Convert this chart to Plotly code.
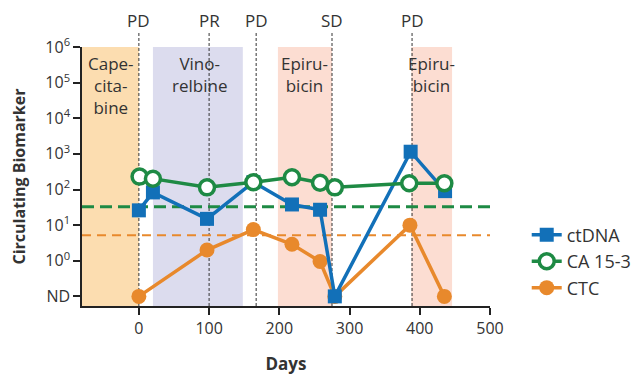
import plotly.graph_objects as go

ND = 0.1  # "not detected" plotted at this level

# ctDNA
ct_days = [0, 20, 97, 163, 218, 258, 279, 387, 436]
ct_vals = [26, 83, 15, 160, 38, 27, ND, 1150, 90]
# CA 15-3
ca_days = [1, 20, 97, 163, 218, 258, 279, 385, 435]
ca_vals = [230, 200, 115, 160, 220, 155, 115, 150, 150]
# CTC
ctc_days = [0, 97, 163, 218, 258, 279, 386, 435]
ctc_vals = [ND, 2.0, 7.5, 2.9, 0.95, ND, 10, ND]

ca_threshold = 33
ctc_threshold = 5.2

# treatment periods
treat_names = ["Cape-<br>cita-<br>bine", "Vino-<br>relbine", "Epiru-<br>bicin", "Epiru-<br>bicin"]
treat_start = [-81, 20, 198, 388]
treat_end = [0, 148, 275, 446]
treat_label_x = [-40, 87, 236, 417]
treat_colors = ["#FCDDB0", "#DCDCEE", "#FCDDD2", "#FCDDD2"]

# response assessments
resp_days = [0, 100, 167, 275, 389]
resp_labels = ["PD", "PR", "PD", "SD", "PD"]

ytick_vals = [ND, 1, 10, 100, 1e3, 1e4, 1e5, 1e6]
ytick_text = ["ND", "10<sup>0</sup>", "10<sup>1</sup>", "10<sup>2</sup>", "10<sup>3</sup>",
              "10<sup>4</sup>", "10<sup>5</sup>", "10<sup>6</sup>"]
xtick_vals = [0, 100, 200, 300, 400, 500]

FONT = "Open Sans"
TXT = "#333333"
BLUE = "#1270B8"
GREEN = "#1E8A44"
ORANGE = "#E8892C"

fig = go.Figure()

fig.add_trace(go.Scatter(x=ctc_days, y=ctc_vals, name="CTC", mode="lines+markers",
                         line=dict(color=ORANGE, width=3.5),
                         marker=dict(symbol="circle", size=15, color=ORANGE),
                         legendgroup="c", legendrank=3))
fig.add_trace(go.Scatter(x=ct_days, y=ct_vals, name="ctDNA", mode="lines+markers",
                         line=dict(color=BLUE, width=3.5),
                         marker=dict(symbol="square", size=14, color=BLUE),
                         legendgroup="a", legendrank=1))
fig.add_trace(go.Scatter(x=ca_days, y=ca_vals, name="CA 15-3", mode="lines+markers",
                         line=dict(color=GREEN, width=3.5),
                         marker=dict(symbol="circle", size=15, color="white",
                                     line=dict(color=GREEN, width=3.5)),
                         legendgroup="b", legendrank=2))

shapes = []
for s, e, c in zip(treat_start, treat_end, treat_colors):
    shapes.append(dict(type="rect", xref="x", yref="paper", x0=s, x1=e, y0=0, y1=1,
                       fillcolor=c, line=dict(width=0), layer="below"))
for d in resp_days:
    shapes.append(dict(type="line", xref="x", yref="paper", x0=d, x1=d, y0=0, y1=1.054,
                       line=dict(color="#333333", width=1, dash="3px,2px"), layer="below"))
shapes.append(dict(type="line", xref="paper", yref="y", x0=0, x1=1, y0=ca_threshold, y1=ca_threshold,
                   line=dict(color=GREEN, width=3, dash="12px,6px"), layer="below"))
shapes.append(dict(type="line", xref="paper", yref="y", x0=0, x1=1, y0=ctc_threshold, y1=ctc_threshold,
                   line=dict(color=ORANGE, width=2, dash="9px,6px"), layer="below"))

annotations = []
for d, t in zip(resp_days, resp_labels):
    annotations.append(dict(x=d, y=1.104, xref="x", yref="paper", text=t, showarrow=False,
                            font=dict(family=FONT, size=17, color=TXT), yanchor="middle"))
for x, t in zip(treat_label_x, treat_names):
    annotations.append(dict(x=x, y=0.99, xref="x", yref="paper", text=t, showarrow=False,
                            font=dict(family=FONT, size=17, color=TXT), yanchor="top", align="center"))

# page body has an 8px margin, so the figure is 8px smaller and left/top margins are offset
fig.update_layout(
    width=632, height=376,
    margin=dict(l=74, r=150, t=39, b=78, autoexpand=False),
    paper_bgcolor="white", plot_bgcolor="white",
    font=dict(family=FONT, size=14, color=TXT),
    shapes=shapes, annotations=annotations,
    showlegend=True,
    legend=dict(x=1.09, y=0.345, xanchor="left", yanchor="top", tracegroupgap=0,
                font=dict(family=FONT, size=18, color=TXT), bgcolor="rgba(0,0,0,0)"),
    xaxis=dict(range=[-81, 500], tickvals=xtick_vals, showgrid=False, zeroline=False,
               automargin=False,
               showline=True, linecolor="#222", linewidth=1.5, ticks="outside", ticklen=7,
               tickcolor="#222", tickwidth=1.5, tickfont=dict(size=16, color=TXT),
               title=dict(text="<b>Days</b>", font=dict(size=17, color=TXT), standoff=20)),
    yaxis=dict(type="log", range=[-1.27, 6], tickvals=ytick_vals, ticktext=ytick_text,
               automargin=False,
               showgrid=False, zeroline=False, showline=True, linecolor="#222", linewidth=1.5,
               ticks="outside", ticklen=7, tickcolor="#222", tickwidth=1.5,
               tickfont=dict(size=16, color=TXT),
               title=dict(text="<b>Circulating Biomarker</b>", font=dict(size=16, color=TXT), standoff=28)),
)

fig.write_html("out.html")
